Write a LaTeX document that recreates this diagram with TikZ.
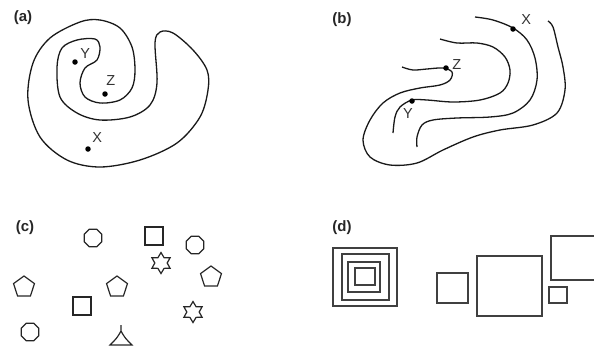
\documentclass[tikz,border=0pt]{standalone}
\usepackage{fontspec}
\setmainfont{Liberation Sans}
\usetikzlibrary{positioning}
\usetikzlibrary{shapes.geometric}

\tikzset{
	panel/.style = {font = \fontsize{15}{17}\selectfont\bfseries, text = black!85},
	letter/.style = {font = \fontsize{14.5}{16}\selectfont, text = black!80, inner sep = 0pt},
	dot/.style = {circle, fill = black, inner sep = 0pt, minimum size = 5.5pt},
	contour/.style = {black!90, line width = 1.3pt},
	figure/.style = {draw = black!85, line width = 1.2pt, inner sep = 0pt},
	box/.style = {black!75, line width = 1.5pt}
}

\begin{document}
\begin{tikzpicture}[x = 1pt, y = -1pt]
	\useasboundingbox (0, 0) rectangle (594, 349);
	% (a)
	\node [panel] (la) at (23, 18) {(a)};
	\draw [contour] plot [smooth cycle, tension = 0.55] coordinates {
		(28, 100) (33, 63) (50, 38) (80, 22) (100, 20) (120, 28) (132, 47) (135, 70)
		(132, 88) (120, 100) (100, 103) (85, 97) (80, 83) (85, 68) (97, 60) (100, 47)
		(95, 39) (77, 40) (62, 48) (57, 67) (60, 97) (77, 113) (100, 120) (130, 117)
		(150, 105) (157, 83) (155, 43) (160, 32) (173, 33) (193, 50) (207, 70) (208, 90)
		(200, 117) (177, 143) (140, 160) (100, 167) (67, 160) (40, 137)};
	\node [dot] (ay) at (75, 62) {};
	\node [dot] (az) at (105, 94) {};
	\node [dot] (ax) at (88, 149) {};
	\node [letter, above right = 1pt and 3pt of ay] {Y};
	\node [letter, above right = 6pt and -1pt of az] {Z};
	\node [letter, above right = 4pt and 2pt of ax] {X};
	% (b)
	\node [panel] (lb) at (342, 20) {(b)};
	\draw [contour] plot [smooth, tension = 0.55] coordinates {
		(402, 67) (413, 70) (427, 69) (443, 68) (452, 72) (450, 80) (440, 85) (420, 88)
		(400, 93) (383, 103) (370, 120) (363, 140) (370, 157) (390, 165) (417, 163)
		(443, 150) (473, 137) (500, 130) (533, 125) (557, 113) (565, 90) (563, 67)
		(558, 47) (553, 27) (548, 21)};
	\draw [contour] plot [smooth, tension = 0.55] coordinates {
		(440, 39) (457, 43) (477, 43) (493, 47) (505, 57) (510, 70) (508, 83) (500, 93)
		(480, 100) (453, 102) (427, 100) (412, 100) (400, 107) (395, 117) (393, 133)};
	\draw [contour] plot [smooth, tension = 0.55] coordinates {
		(475, 17) (493, 20) (513, 28) (527, 40) (535, 58) (537, 80) (530, 100) (513, 113)
		(490, 117) (457, 118) (433, 120) (422, 125) (417, 137) (417, 147)};
	\node [dot] (bx) at (513, 29) {};
	\node [dot] (bz) at (446, 68) {};
	\node [dot] (by) at (412, 101) {};
	\node [letter, above right = 2pt and 6pt of bx] {X};
	\node [letter, above right = -4pt and 4pt of bz] {Z};
	\node [letter, below = 4pt of by, xshift = -4pt] {Y};
	% (c)
	\node [panel] (lc) at (25, 228) {(c)};
	\node [figure, regular polygon, regular polygon sides = 8, minimum size = 19pt] (c1) at (93, 238) {};
	\node [figure, regular polygon, regular polygon sides = 8, minimum size = 19pt] (c2) at (195, 245) {};
	\node [figure, regular polygon, regular polygon sides = 8, minimum size = 19pt] (c3) at (30, 332) {};
	\node [figure, rectangle, minimum size = 18pt] (s1) at (154, 236) {};
	\node [figure, rectangle, minimum size = 18pt] (s2) at (82, 306) {};
	\node [figure, regular polygon, regular polygon sides = 5, minimum size = 22pt] (p1) at (211, 277) {};
	\node [figure, regular polygon, regular polygon sides = 5, minimum size = 22pt] (p2) at (24, 287) {};
	\node [figure, regular polygon, regular polygon sides = 5, minimum size = 22pt] (p3) at (117, 287) {};
	\node [figure, star, star points = 6, star point ratio = 1.7, minimum size = 21pt] (t1) at (161, 263) {};
	\node [figure, star, star points = 6, star point ratio = 1.7, minimum size = 21pt] (t2) at (193, 312) {};
	\draw [black!85, line width = 1.2pt, line join = miter] (121, 325) -- (121, 331)
		.. controls (117, 338) .. (110, 345) -- (132, 345) .. controls (125, 338) .. (121, 331);
	% (d)
	\node [panel] (ld) at (342, 228) {(d)};
	\draw [box] (333, 248) rectangle (397, 306);
	\draw [box] (342, 254) rectangle (389, 300);
	\draw [box] (348, 262) rectangle (380, 292);
	\draw [box] (355, 268) rectangle (375, 285);
	\draw [box] (437, 273) rectangle (468, 303);
	\draw [box] (477, 256) rectangle (542, 316);
	\draw [box] (549, 287) rectangle (567, 303);
	\draw [box] (596, 236) -- (551, 236) -- (551, 280) -- (596, 280);
\end{tikzpicture}
\end{document}
